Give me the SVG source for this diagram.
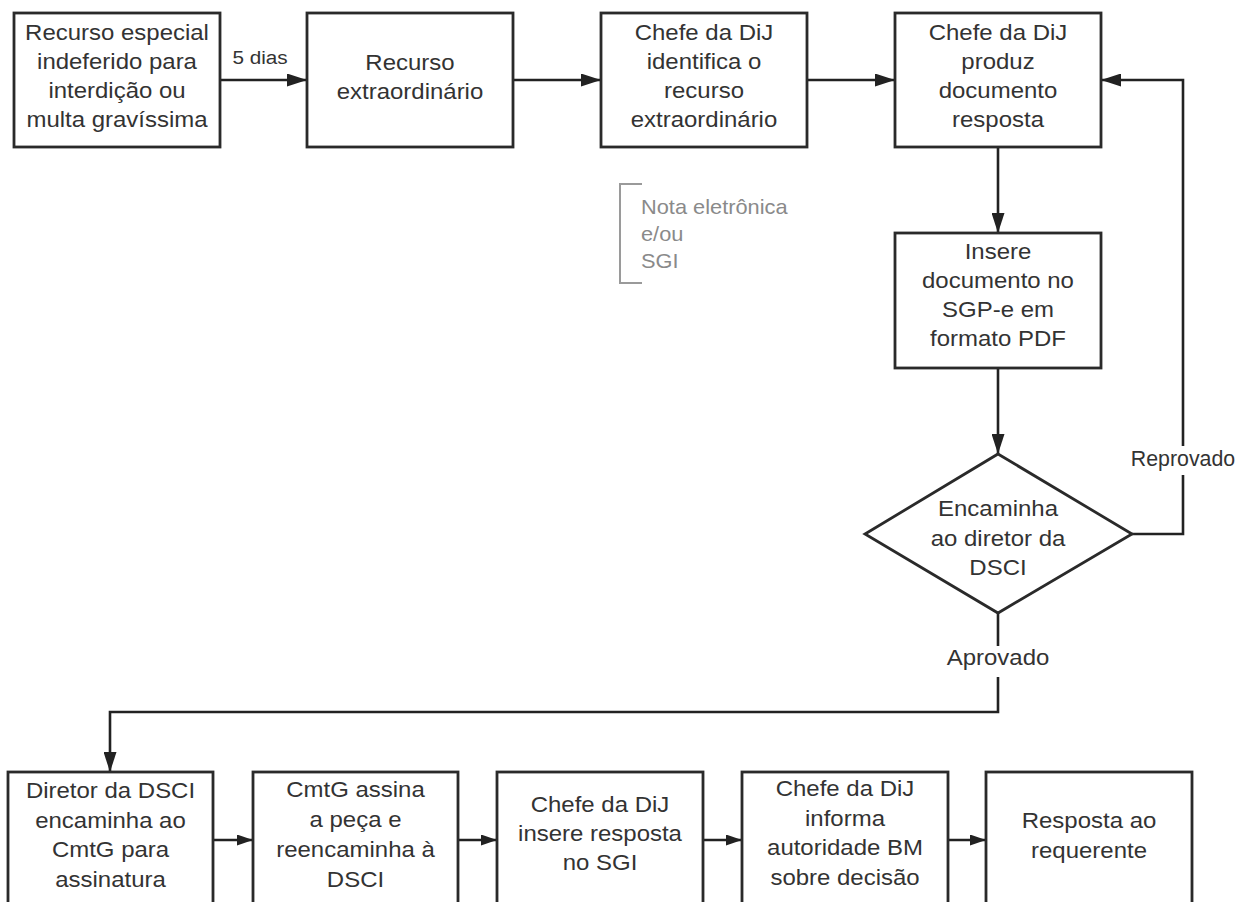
<svg xmlns="http://www.w3.org/2000/svg" width="1237" height="902" viewBox="0 0 1237 902">
  <defs>
    <marker id="arr" markerUnits="userSpaceOnUse" markerWidth="20" markerHeight="13" refX="20" refY="6.5" orient="auto">
      <path d="M0,0 L20,6.5 L0,13 z" fill="#222"/>
    </marker>
    <marker id="arrs" markerUnits="userSpaceOnUse" markerWidth="16" markerHeight="11" refX="16" refY="5.5" orient="auto">
      <path d="M0,0 L16,5.5 L0,11 z" fill="#222"/>
    </marker>
  </defs>
  <style>
    .box { fill: #fff; stroke: #2a2a2a; stroke-width: 2.8; }
    .t { font-family: "Liberation Sans", Arial, sans-serif; font-size: 22px; fill: #333; text-anchor: middle; }
    .lbl { font-family: "Liberation Sans", Arial, sans-serif; font-size: 22px; fill: #333; text-anchor: middle; }
    .small { font-family: "Liberation Sans", Arial, sans-serif; font-size: 19px; fill: #333; text-anchor: middle; }
    .note { font-family: "Liberation Sans", Arial, sans-serif; font-size: 20px; fill: #8a8a8a; }
    .c { fill: none; stroke: #222; stroke-width: 2.6; }
    .cs { fill: none; stroke: #222; stroke-width: 2.6; }
  </style>
  <rect width="1237" height="902" fill="#fff"/>

  <g id="connectors">
    <path class="c" d="M220,80 L307,80" marker-end="url(#arr)"/>
    <path class="c" d="M513,80 L601,80" marker-end="url(#arr)"/>
    <path class="c" d="M807,80 L895,80" marker-end="url(#arr)"/>
    <path class="c" d="M998,147 L998,233" marker-end="url(#arr)"/>
    <path class="c" d="M998,368 L998,454" marker-end="url(#arr)"/>
    <path class="c" d="M1132,534 L1183,534 L1183,80 L1101,80" marker-end="url(#arr)"/>
    <path class="c" d="M998,613 L998,712 L110,712 L110,772" marker-end="url(#arr)"/>
    <path class="cs" d="M213,840 L253,840" marker-end="url(#arrs)"/>
    <path class="cs" d="M458,840 L497,840" marker-end="url(#arrs)"/>
    <path class="cs" d="M703,840 L742,840" marker-end="url(#arrs)"/>
    <path class="cs" d="M948,840 L986,840" marker-end="url(#arrs)"/>
  </g>

  <g id="labels">
    <text class="small" transform="translate(260 0) scale(1.09 1)"><tspan x="0" y="64">5 dias</tspan></text>
    <rect x="1128" y="446" width="109" height="29" fill="#fff"/>
    <text class="lbl" transform="translate(1183 0) scale(0.97 1)"><tspan x="0" y="466">Reprovado</tspan></text>
    <rect x="940" y="646" width="116" height="31" fill="#fff"/>
    <text class="lbl" transform="translate(998 0) scale(1.09 1)"><tspan x="0" y="665">Aprovado</tspan></text>
  </g>

  <g id="n1">
    <rect class="box" x="14" y="13" width="206" height="134"/>
    <text class="t" transform="translate(117 0) scale(1.09 1)"><tspan x="0" y="40">Recurso especial</tspan><tspan x="0" y="69">indeferido para</tspan><tspan x="0" y="98">interdição ou</tspan><tspan x="0" y="127">multa gravíssima</tspan></text>
  </g>
  <g id="n2">
    <rect class="box" x="307" y="13" width="206" height="134"/>
    <text class="t" transform="translate(410 0) scale(1.09 1)"><tspan x="0" y="70">Recurso</tspan><tspan x="0" y="99">extraordinário</tspan></text>
  </g>
  <g id="n3">
    <rect class="box" x="601" y="13" width="206" height="134"/>
    <text class="t" transform="translate(704 0) scale(1.09 1)"><tspan x="0" y="40">Chefe da DiJ</tspan><tspan x="0" y="69">identifica o</tspan><tspan x="0" y="98">recurso</tspan><tspan x="0" y="127">extraordinário</tspan></text>
  </g>
  <g id="n4">
    <rect class="box" x="895" y="13" width="206" height="134"/>
    <text class="t" transform="translate(998 0) scale(1.09 1)"><tspan x="0" y="40">Chefe da DiJ</tspan><tspan x="0" y="69">produz</tspan><tspan x="0" y="98">documento</tspan><tspan x="0" y="127">resposta</tspan></text>
  </g>
  <g id="n5">
    <rect class="box" x="895" y="233" width="206" height="135"/>
    <text class="t" transform="translate(998 0) scale(1.09 1)"><tspan x="0" y="259">Insere</tspan><tspan x="0" y="288">documento no</tspan><tspan x="0" y="317">SGP-e em</tspan><tspan x="0" y="346">formato PDF</tspan></text>
  </g>
  <g id="note">
    <path d="M642,184 L620,184 L620,283 L642,283" fill="none" stroke="#9a9a9a" stroke-width="2"/>
    <text class="note" transform="translate(641 0) scale(1.09 1)"><tspan x="0" y="214">Nota eletrônica</tspan><tspan x="0" y="241">e/ou</tspan><tspan x="0" y="268">SGI</tspan></text>
  </g>
  <g id="decision">
    <polygon class="box" points="998,454 1132,534 998,613 865,534"/>
    <text class="t" transform="translate(998 0) scale(1.09 1)"><tspan x="0" y="516">Encaminha</tspan><tspan x="0" y="546">ao diretor da</tspan><tspan x="0" y="575">DSCI</tspan></text>
  </g>
  <g id="b1">
    <rect class="box" x="8" y="772" width="205" height="140"/>
    <text class="t" transform="translate(110.5 0) scale(1.09 1)"><tspan x="0" y="798">Diretor da DSCI</tspan><tspan x="0" y="828">encaminha ao</tspan><tspan x="0" y="857">CmtG para</tspan><tspan x="0" y="887">assinatura</tspan></text>
  </g>
  <g id="b2">
    <rect class="box" x="253" y="772" width="205" height="140"/>
    <text class="t" transform="translate(355.5 0) scale(1.09 1)"><tspan x="0" y="797">CmtG assina</tspan><tspan x="0" y="827">a peça e</tspan><tspan x="0" y="857">reencaminha à</tspan><tspan x="0" y="887">DSCI</tspan></text>
  </g>
  <g id="b3">
    <rect class="box" x="497" y="772" width="206" height="140"/>
    <text class="t" transform="translate(600 0) scale(1.09 1)"><tspan x="0" y="812">Chefe da DiJ</tspan><tspan x="0" y="841">insere resposta</tspan><tspan x="0" y="870">no SGI</tspan></text>
  </g>
  <g id="b4">
    <rect class="box" x="742" y="772" width="206" height="140"/>
    <text class="t" transform="translate(845 0) scale(1.09 1)"><tspan x="0" y="796">Chefe da DiJ</tspan><tspan x="0" y="826">informa</tspan><tspan x="0" y="855">autoridade BM</tspan><tspan x="0" y="885">sobre decisão</tspan></text>
  </g>
  <g id="b5">
    <rect class="box" x="986" y="772" width="206" height="140"/>
    <text class="t" transform="translate(1089 0) scale(1.09 1)"><tspan x="0" y="828">Resposta ao</tspan><tspan x="0" y="858">requerente</tspan></text>
  </g>
</svg>
